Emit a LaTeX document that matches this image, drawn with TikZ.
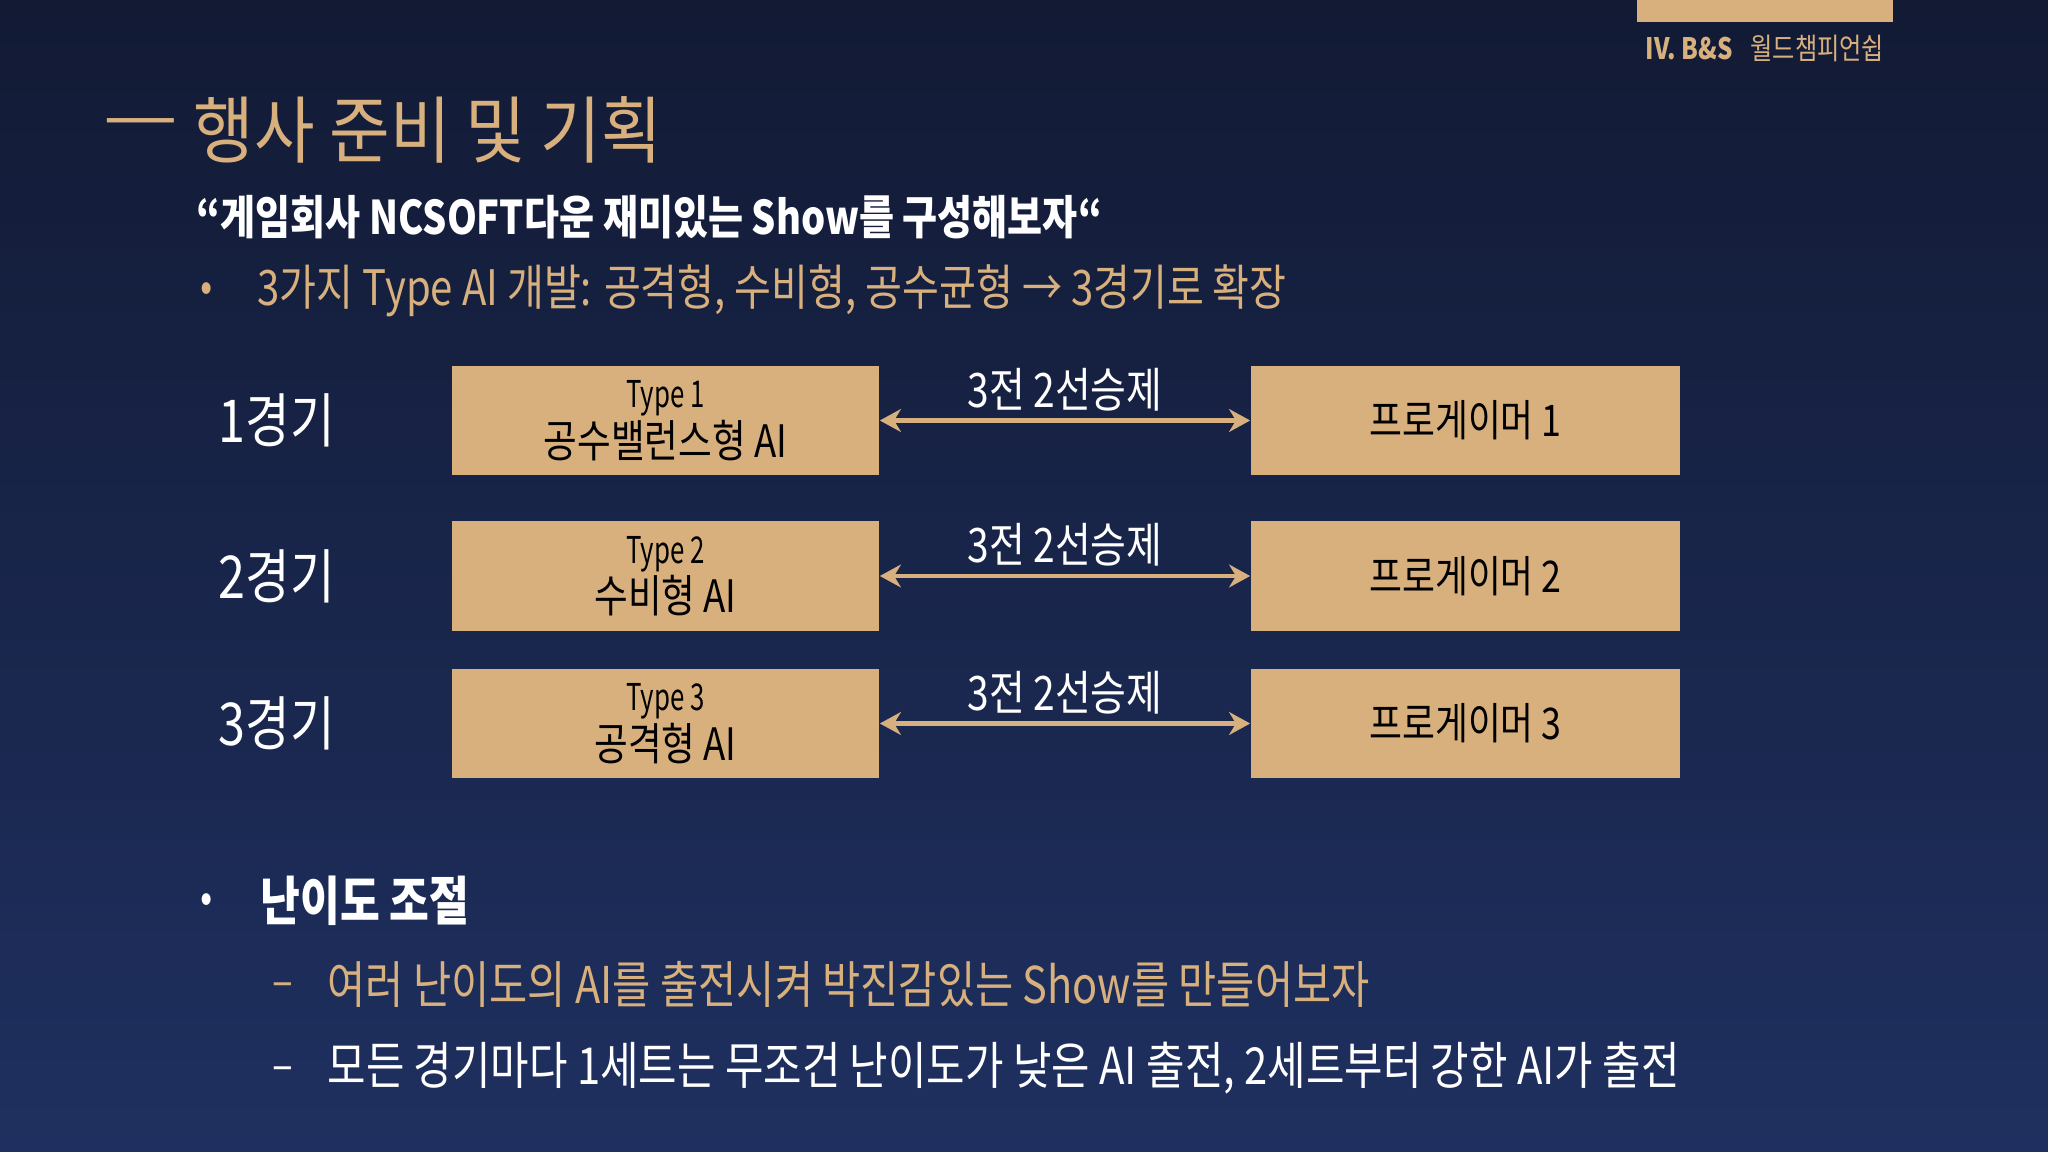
\documentclass[tikz,border=0pt]{standalone}
\usepackage{fontspec}
\setmainfont[FakeStretch=0.82]{Noto Sans CJK KR}
\newfontfamily\titlefont[FakeStretch=0.9]{Noto Sans CJK KR}
\newfontfamily\narrowfont[FakeStretch=0.7]{Noto Sans CJK KR}
\usetikzlibrary{arrows.meta}
\definecolor{tan}{RGB}{216,176,126}
\definecolor{bgtop}{RGB}{18,26,52}
\definecolor{bgbot}{RGB}{31,48,96}
\begin{document}
\begin{tikzpicture}[x=0.01cm,y=-0.01cm,
  txt/.style={inner sep=0pt,anchor=west},
  fs/.style={font=\fontsize{#1}{#1}\selectfont},
  lbox/.style={fill=tan,minimum width=4.27cm,minimum height=1.09cm,inner sep=0pt,align=center,text=black},
  rbox/.style={fill=tan,minimum width=4.29cm,minimum height=1.09cm,inner sep=0pt,text=black,fs=12.4},
  arr/.style={draw=tan,line width=1.3pt,{Stealth[length=6pt,width=6.5pt]}-{Stealth[length=6pt,width=6.5pt]}},
  alab/.style={midway,yshift=0.31cm,inner sep=0pt,text=white,fs=13.5},
  rowlab/.style={txt,text=white,fs=16.8}
]
\shade[top color=bgtop,bottom color=bgbot] (0,0) rectangle (2048,1152);
\useasboundingbox (0,0) rectangle (2048,1152);

% top-right tab
\fill[tan] (1637,0) rectangle (1893,22);
\node[txt,text=tan,fs=8.4] (hdr) at (1645,48) {\textbf{IV. B\&S}\hspace{0.6em}월드챔피언쉽};

% title
\node[txt,text=tan,fs=20,xscale=1.45,transform shape] (dash) at (102,130) {—};
\node[txt,text=tan,font=\titlefont\fontsize{20.8}{21}\selectfont] (title) at (193,130) {행사 준비 및 기획};
\node[txt,text=white,fs=13.2] (quote) at (196,217) {\textbf{“게임회사 NCSOFT다운 재미있는 Show를 구성해보자“}};
\node[txt,text=tan,fs=12.5] (b1) at (200,292) {•};
\node[txt,text=tan,fs=13.9] (l1) at (257,291) {3가지 Type AI 개발: 공격형, 수비형, 공수균형 → 3경기로 확장};

% rows
\node[rowlab] (g1) at (218,420) {1경기};
\node[rowlab] (g2) at (218,576) {2경기};
\node[rowlab] (g3) at (218,723) {3경기};

\node[lbox] (L1) at (665.5,420.5) {{\narrowfont\fontsize{10.5}{11}\selectfont Type 1}\\[0pt]{\fontsize{12.7}{13}\selectfont 공수밸런스형 AI}};
\node[lbox] (L2) at (665.5,576) {{\narrowfont\fontsize{10.5}{11}\selectfont Type 2}\\[0pt]{\fontsize{12.7}{13}\selectfont 수비형 AI}};
\node[lbox] (L3) at (665.5,723.5) {{\narrowfont\fontsize{10.5}{11}\selectfont Type 3}\\[0pt]{\fontsize{12.7}{13}\selectfont 공격형 AI}};

\node[rbox] (R1) at (1465.5,420.5) {프로게이머 1};
\node[rbox] (R2) at (1465.5,576) {프로게이머 2};
\node[rbox] (R3) at (1465.5,723.5) {프로게이머 3};

\draw[arr] (L1) -- node[alab] (a1) {3전 2선승제} (R1);
\draw[arr] (L2) -- node[alab] (a2) {3전 2선승제} (R2);
\draw[arr] (L3) -- node[alab] (a3) {3전 2선승제} (R3);

% bottom bullets
\node[txt,text=white,fs=12.5] (b2) at (200,903) {•};
\node[txt,text=white,fs=15] (h2) at (260,901) {\textbf{난이도 조절}};
\node[txt,text=tan,fs=13.4] (d1) at (272,990) {–};
\node[txt,text=tan,fs=14.4] (s1) at (327,984) {여러 난이도의 AI를 출전시켜 박진감있는 Show를 만들어보자};
\node[txt,text=white,fs=13.4] (d2) at (272,1074) {–};
\node[txt,text=white,fs=14.5] (s2) at (327,1068) {모든 경기마다 1세트는 무조건 난이도가 낮은 AI 출전, 2세트부터 강한 AI가 출전};
\end{tikzpicture}
\end{document}
